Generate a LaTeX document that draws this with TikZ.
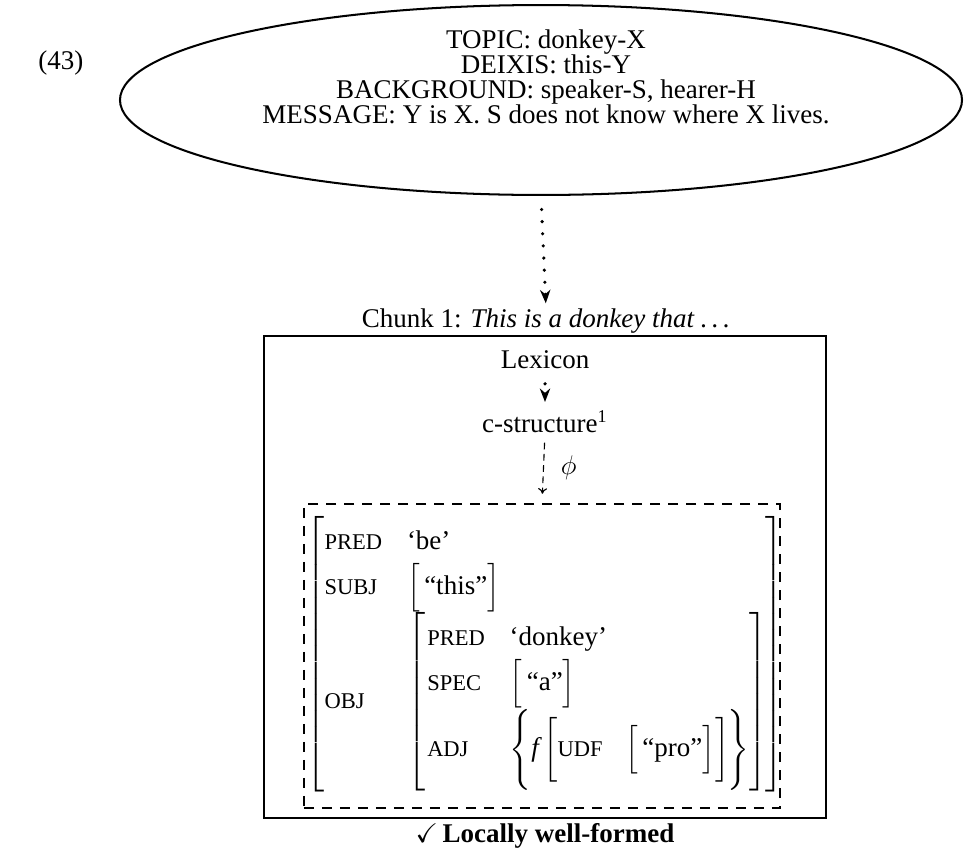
\documentclass[tikz,border=0pt,12pt]{standalone}
\usepackage{amsmath,amssymb}
\usepackage{fontspec}
\setmainfont{Liberation Serif}
\usepackage{tikz}
\usetikzlibrary{arrows.meta, positioning, shapes.geometric}

\newcommand{\feat}[1]{\text{\footnotesize #1}}
\newcommand{\atom}[1]{\Bigl[\text{\,#1}\Bigr]}
\renewcommand{\arraystretch}{1.4}

\begin{document}
\begin{tikzpicture}[
    x=0.4444pt, y=-0.4444pt,
    every node/.style={inner sep=0pt},
    goal/.style={draw, ellipse, line width=0.9pt, minimum width=374.2pt, minimum height=84.4pt},
    goaltxt/.style={align=center, font=\fontsize{12pt}{11.2pt}\selectfont},
    chunkbox/.style={draw, line width=0.9pt, minimum width=249.8pt, minimum height=214.2pt},
    fstrbox/.style={draw, line width=1.1pt, dash pattern=on 4.5pt off 3.5pt, minimum width=211.6pt, minimum height=135.1pt},
    dotarrow/.style={draw, line width=1.6pt, line cap=round, dash pattern=on 0pt off 5.4pt, -{Stealth[length=6pt, width=4.6pt]}},
    phiarrow/.style={draw, line width=0.5pt, dash pattern=on 3pt off 2pt, -{To[length=2.5pt, width=4pt]}}
]
    \useasboundingbox (0,0) rectangle (964,847);

    \node[anchor=base west] (exno) at (38,69) {(43)};
    \node[goal] (goal) at (541,100) {};
    \node[goaltxt] (goaltext) at (546,77) {TOPIC: donkey-X\\DEIXIS: this-Y\\BACKGROUND: speaker-S, hearer-H\\MESSAGE: Y is X. S does not know where X lives.};

    \node[chunkbox] (chunk) at (545,577) {};
    \node[anchor=base] (chunktitle) at (546,327) {Chunk 1: \textit{This is a donkey that .\,.\,.}};

    \node[anchor=base] (lex) at (545,368) {Lexicon};
    \node[anchor=base] (cstr) at (545,432) {c-structure\textsuperscript{1}};

    % f-structure
    \node[fstrbox] (fstr) at (542,656) {};
    \node (avm) at (545,654) {%
      $\left[\begin{array}{@{}l@{\hspace{11pt}}l@{\hspace{-1pt}}}
        \feat{PRED} & \text{`be'}\\
        \feat{SUBJ} & \atom{``this''}\\
        \feat{OBJ}  & \left[\begin{array}{@{\hspace{1pt}}l@{\hspace{11pt}}l@{}}
            \feat{PRED} & \text{`donkey'}\\
            \feat{SPEC} & \atom{``a''}\\[2pt]
            \feat{ADJ}  & \Biggl\{\textit{f}\,\biggl[\feat{UDF}\hspace{10pt}\atom{``pro''}\biggr]\mkern-1mu\Biggr\}
          \end{array}\right]
      \end{array}\right]$};

    \node[anchor=base, font=\bfseries] (verdict) at (545,842) {$\checkmark$\,Locally well-formed};

    \draw[dotarrow, shorten <=6pt, shorten >=2pt] (goal.south) -- (chunktitle.north);
    \draw[dotarrow, shorten <=6.7pt, shorten >=3.5pt] (lex.south) -- (cstr.north);
    \draw[phiarrow, shorten <=4.4pt, shorten >=4pt] (cstr.south) -- (fstr.north)
        node[midway, right=7.5pt] {$\phi$};
\end{tikzpicture}
\end{document}
